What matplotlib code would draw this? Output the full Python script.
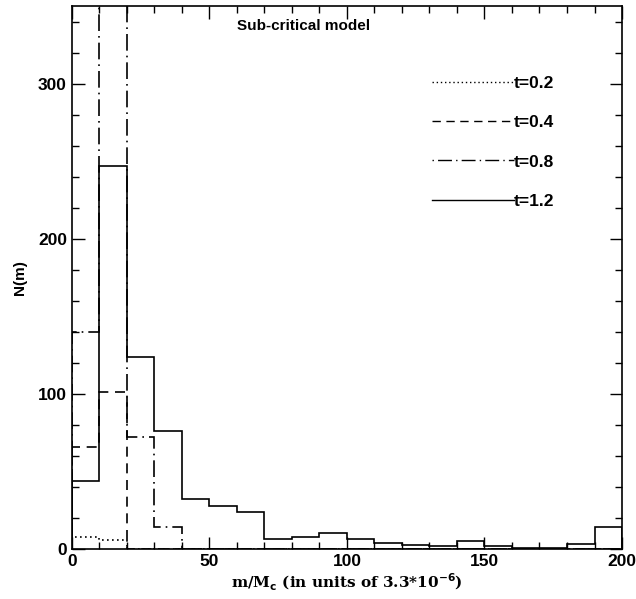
import matplotlib
matplotlib.use("Agg")
import matplotlib.pyplot as plt
import numpy as np
from matplotlib.ticker import MultipleLocator

plt.rcParams["font.family"] = ["Liberation Sans", "DejaVu Sans"]
plt.rcParams["font.weight"] = "bold"

# bin edges in units of m/M_c (width 10)
bin_edges = np.arange(0, 210, 10)

# counts per bin (off-scale bins set above the axis top)
counts_t02 = [8, 5.5, 0, 0, 0, 0, 0, 0, 0, 0, 0, 0, 0, 0, 0, 0, 0, 0, 0, 0]
counts_t04 = [66, 101, 0, 0, 0, 0, 0, 0, 0, 0, 0, 0, 0, 0, 0, 0, 0, 0, 0, 0]
counts_t08 = [140, 420, 72, 14, 0, 0, 0, 0, 0, 0, 0, 0, 0, 0, 0, 0, 0, 0, 0, 0]
counts_t12 = [43.5, 247, 124, 76, 32, 28, 24, 6.5, 7.5, 10.5,
              6.5, 3.7, 2.8, 1.8, 5.4, 2.2, 0.9, 0.9, 3.2, 14]

series = [
    ("t=0.2", counts_t02, (0, (1, 2))),
    ("t=0.4", counts_t04, (0, (6, 4))),
    ("t=0.8", counts_t08, (0, (1, 3, 10, 3))),
    ("t=1.2", counts_t12, "-"),
]

fig = plt.figure(figsize=(6.36, 5.99), dpi=100)
ax = fig.add_axes([0.113, 0.0835, 0.865, 0.9065])

for label, counts, style in series:
    ax.stairs(counts, bin_edges, color="black", linestyle=style,
              linewidth=1.2, label=label)

ax.set_xlim(0, 200)
ax.set_ylim(0, 350)
ax.xaxis.set_major_locator(MultipleLocator(50))
ax.xaxis.set_minor_locator(MultipleLocator(10))
ax.yaxis.set_major_locator(MultipleLocator(100))
ax.yaxis.set_minor_locator(MultipleLocator(20))
ax.tick_params(which="both", direction="in", top=True, right=True,
               labelsize=12.5, width=1)
ax.tick_params(which="major", length=9)
ax.tick_params(which="minor", length=5)
for spine in ax.spines.values():
    spine.set_linewidth(1.2)

ax.set_xlabel(r"m/M$_{\mathbf{c}}$ (in units of 3.3*10$^{\mathbf{-6}}$)",
              fontsize=11, fontweight="bold", family="DejaVu Serif",
              labelpad=2)
ax.set_ylabel("N(m)", fontsize=11, fontweight="bold", labelpad=8)

ax.text(0.30, 0.955, "Sub-critical model", transform=ax.transAxes,
        fontsize=11, fontweight="bold")

legend = ax.legend(loc="upper right", bbox_to_anchor=(0.877, 0.872),
                   frameon=False, handlelength=4.7, handletextpad=0.0,
                   labelspacing=1.4, fontsize=12.5, borderpad=0,
                   borderaxespad=0)
for line in legend.get_lines():
    line.set_linewidth(1.0)

fig.savefig("out.png", dpi=100)
